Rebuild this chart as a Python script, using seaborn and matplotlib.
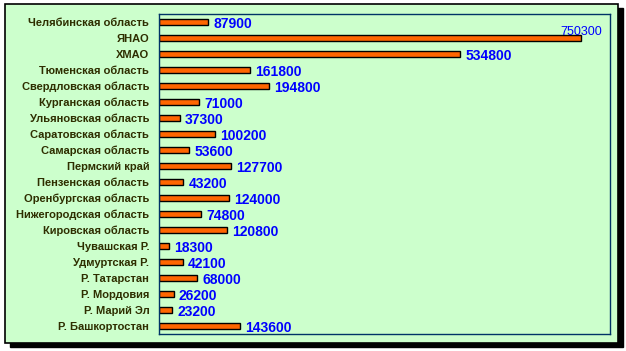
import numpy as np
import pandas as pd
import matplotlib.pyplot as plt
import seaborn as sns
from matplotlib.patches import Rectangle

regions = ['Челябинская область', 'ЯНАО', 'ХМАО', 'Тюменская область',
           'Свердловская область', 'Курганская область', 'Ульяновская область',
           'Саратовская область', 'Самарская область', 'Пермский край',
           'Пензенская область', 'Оренбургская область', 'Нижегородская область',
           'Кировская область', 'Чувашская Р.', 'Удмуртская Р.', 'Р. Татарстан',
           'Р. Мордовия', 'Р. Марий Эл', 'Р. Башкортостан']
values = [87900, 750300, 534800, 161800, 194800, 71000, 37300, 100200, 53600,
          127700, 43200, 124000, 74800, 120800, 18300, 42100, 68000, 26200,
          23200, 143600]

df = pd.DataFrame({'region': regions, 'value': values})

sns.set_style('white')
plt.rcParams['font.family'] = ['Liberation Sans', 'DejaVu Sans']

green = '#CCFFCC'
navy = '#003366'

fig = plt.figure(figsize=(6.26, 3.51), dpi=100, facecolor='white')

# outer chart frame with shadow
fig.patches.append(Rectangle((0.016, 0.0114), 0.979, 0.966, transform=fig.transFigure,
                             facecolor='black', edgecolor='black', zorder=0))
fig.patches.append(Rectangle((0.008, 0.0228), 0.979, 0.966, transform=fig.transFigure,
                             facecolor=green, edgecolor='black', linewidth=1.2, zorder=1))

ax = fig.add_axes([0.254, 0.0484, 0.72, 0.912])
ax.set_facecolor(green)
ax.set_zorder(2)

sns.barplot(data=df, x='value', y='region', orient='h', color='#FF6600',
            saturation=1, edgecolor='black', linewidth=1, width=0.4, ax=ax)

ax.set_xlim(0, 800500)
ax.set_ylim(len(regions) - 0.5, -0.5)
ax.set_xlabel('')
ax.set_ylabel('')
ax.set_xticks([])

ax.tick_params(axis='y', which='major', length=0, pad=7, labelsize=8,
               labelcolor='#2E2E00')
for lab in ax.get_yticklabels():
    lab.set_fontweight('bold')
ax.set_yticks(np.arange(len(regions) + 1) - 0.5, minor=True)
ax.tick_params(axis='y', which='minor', length=3, direction='out', color=navy, width=1)

for s in ax.spines.values():
    s.set_visible(True)
    s.set_color(navy)
    s.set_linewidth(1)

vmax = max(values)
for i, v in enumerate(values):
    if v == vmax:
        ax.annotate(str(v), xy=(v, i), xytext=(15, 4.5), textcoords='offset points',
                    ha='right', va='center', fontsize=9, color='#0000FF')
    else:
        ax.annotate(str(v), xy=(v, i), xytext=(3.6, -1.6), textcoords='offset points',
                    ha='left', va='center', fontsize=10, fontweight='bold',
                    color='#0000FF')

fig.savefig('out.png', dpi=100, facecolor='white')
